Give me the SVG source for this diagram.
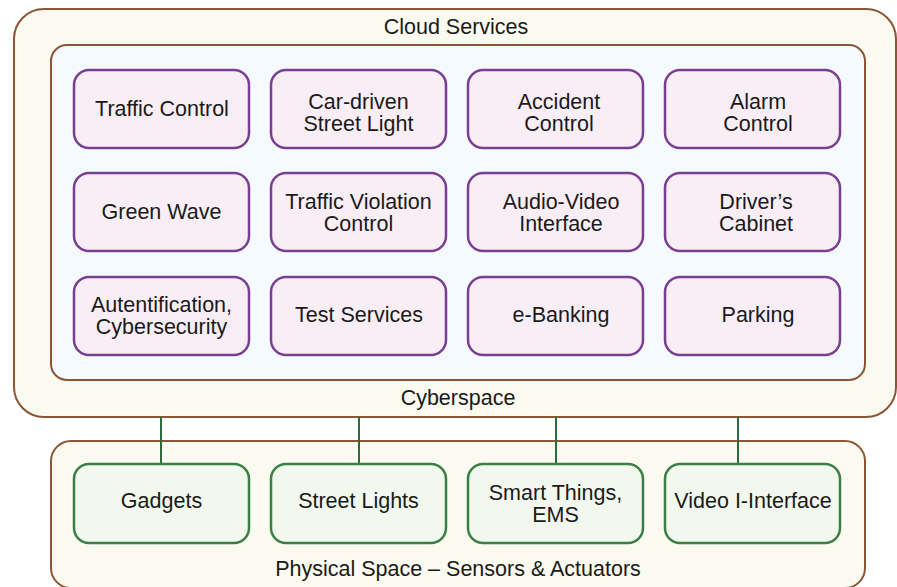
<svg xmlns="http://www.w3.org/2000/svg" width="897" height="587" viewBox="0 0 897 587">
<style>
text{font-family:"Liberation Sans",Arial,sans-serif;font-size:21.5px;fill:#1a1a1a;text-anchor:middle}
.cont{stroke:#8a5636;stroke-width:2}
.svc rect{fill:#f9eef6;stroke:#7b3f92;stroke-width:2.5}
.phy rect{fill:#f3f8ef;stroke:#3b7f45;stroke-width:2.5}
.conn line{stroke:#2f6b3a;stroke-width:2}
</style>
<rect class="cont" x="14" y="9" width="882" height="408" rx="30" fill="#fafaf0"/>
<rect class="cont" x="51" y="45" width="814" height="335" rx="16" fill="#f4fafe"/>
<rect class="cont" x="51" y="441" width="814" height="147" rx="20" fill="#fafaf0"/>
<text x="456" y="34">Cloud Services</text>
<text x="458" y="405">Cyberspace</text>
<text x="458" y="576">Physical Space – Sensors &amp; Actuators</text>
<g id="connectors" class="conn">
<line x1="161" y1="417" x2="161" y2="464"/>
<line x1="359" y1="417" x2="359" y2="464"/>
<line x1="556" y1="417" x2="556" y2="464"/>
<line x1="738" y1="417" x2="738" y2="464"/>
</g>
<g id="traffic-control" class="svc"><rect x="74" y="70" width="175" height="78" rx="15"/><text x="162" y="116">Traffic Control</text></g>
<g id="car-driven" class="svc"><rect x="271" y="70" width="175" height="78" rx="15"/><text x="358.5" y="109">Car-driven</text><text x="358.5" y="131">Street Light</text></g>
<g id="accident" class="svc"><rect x="468" y="70" width="175" height="78" rx="15"/><text x="559" y="109">Accident</text><text x="559" y="131">Control</text></g>
<g id="alarm" class="svc"><rect x="665" y="70" width="175" height="78" rx="15"/><text x="758" y="109">Alarm</text><text x="758" y="131">Control</text></g>
<g id="green-wave" class="svc"><rect x="74" y="173" width="175" height="78" rx="15"/><text x="161.5" y="219">Green Wave</text></g>
<g id="violation" class="svc"><rect x="271" y="173" width="175" height="78" rx="15"/><text x="358.5" y="209">Traffic Violation</text><text x="358.5" y="231">Control</text></g>
<g id="audio-video" class="svc"><rect x="468" y="173" width="175" height="78" rx="15"/><text x="561" y="209">Audio-Video</text><text x="561" y="231">Interface</text></g>
<g id="cabinet" class="svc"><rect x="665" y="173" width="175" height="78" rx="15"/><text x="756" y="209">Driver’s</text><text x="756" y="231">Cabinet</text></g>
<g id="auth" class="svc"><rect x="74" y="277" width="175" height="78" rx="15"/><text x="161.5" y="312">Autentification,</text><text x="161.5" y="334">Cybersecurity</text></g>
<g id="test" class="svc"><rect x="271" y="277" width="175" height="78" rx="15"/><text x="359" y="322">Test Services</text></g>
<g id="ebanking" class="svc"><rect x="468" y="277" width="175" height="78" rx="15"/><text x="561" y="322">e-Banking</text></g>
<g id="parking" class="svc"><rect x="665" y="277" width="175" height="78" rx="15"/><text x="758" y="322">Parking</text></g>
<g id="gadgets" class="phy"><rect x="74" y="464" width="175" height="79" rx="15"/><text x="161.5" y="508">Gadgets</text></g>
<g id="street-lights" class="phy"><rect x="271" y="464" width="175" height="79" rx="15"/><text x="358.5" y="508">Street Lights</text></g>
<g id="smart-things" class="phy"><rect x="468" y="464" width="175" height="79" rx="15"/><text x="555.5" y="500">Smart Things,</text><text x="555.5" y="522">EMS</text></g>
<g id="video" class="phy"><rect x="665" y="464" width="175" height="79" rx="15"/><text x="753" y="508">Video I-Interface</text></g>
</svg>
